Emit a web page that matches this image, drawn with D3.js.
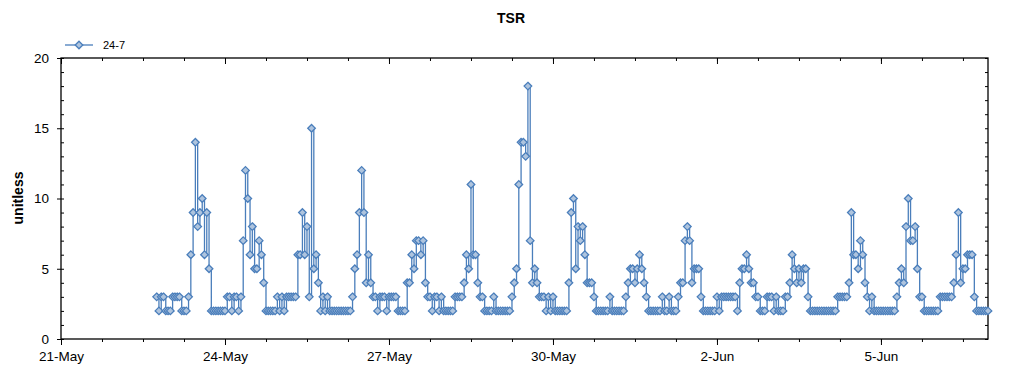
<!DOCTYPE html>
<html>
<head>
<meta charset="utf-8">
<script src="https://cdn.jsdelivr.net/npm/d3@7/dist/d3.min.js"></script>
<style>
  body { margin: 0; background: #fff; }
  svg { display: block; font-family: "Liberation Sans", Arial, sans-serif; }
</style>
</head>
<body>
<svg id="chart" width="1024" height="375"></svg>
<script>
const chartTitle = "TSR"
const seriesName = "24-7"
const yLabel = "unitless"
const yTicks = [0, 5, 10, 15, 20]
const xDomain = ["2024-05-21T00:00:00Z", "2024-06-06T23:00:00Z"]

// hourly readings, one array per day (first day starts at 18:00)
const dayStarts = ["2024-05-22T18:00:00Z", "2024-05-23T00:00:00Z", "2024-05-24T00:00:00Z",
	"2024-05-25T00:00:00Z", "2024-05-26T00:00:00Z", "2024-05-27T00:00:00Z", "2024-05-28T00:00:00Z",
	"2024-05-29T00:00:00Z", "2024-05-30T00:00:00Z", "2024-05-31T00:00:00Z", "2024-06-01T00:00:00Z",
	"2024-06-02T00:00:00Z", "2024-06-03T00:00:00Z", "2024-06-04T00:00:00Z", "2024-06-05T00:00:00Z",
	"2024-06-06T00:00:00Z"]
const may22 = [3, 2, 3, 3, 2, 2]
const may23 = [2, 3, 3, 3, 3, 2, 2, 2, 3, 6, 9, 14, 8, 9, 10, 6, 9, 5, 2, 2, 2, 2, 2, 2]
const may24 = [2, 3, 3, 2, 3, 3, 2, 3, 7, 12, 10, 6, 8, 5, 5, 7, 6, 4, 2, 2, 2, 2, 2, 3]
const may25 = [2, 3, 2, 3, 3, 3, 3, 3, 6, 6, 9, 6, 8, 3, 15, 5, 6, 4, 2, 3, 2, 3, 2, 2]
const may26 = [2, 2, 2, 2, 2, 2, 2, 2, 3, 5, 6, 9, 12, 9, 4, 6, 4, 3, 3, 2, 3, 3, 3, 2]
const may27 = [3, 3, 3, 3, 2, 2, 2, 2, 4, 4, 6, 5, 7, 7, 6, 7, 4, 3, 3, 2, 3, 3, 2, 3]
const may28 = [2, 2, 2, 2, 2, 3, 3, 3, 3, 4, 6, 5, 11, 6, 6, 4, 3, 3, 2, 2, 2, 2, 3, 2]
const may29 = [2, 2, 2, 2, 2, 2, 3, 4, 5, 11, 14, 14, 13, 18, 7, 4, 5, 4, 3, 3, 3, 2, 3, 2]
const may30 = [3, 2, 2, 2, 2, 2, 2, 4, 9, 10, 5, 8, 7, 8, 6, 4, 4, 4, 3, 2, 2, 2, 2, 2]
const may31 = [2, 3, 2, 2, 2, 2, 2, 2, 3, 4, 5, 5, 4, 5, 6, 5, 4, 3, 2, 2, 2, 2, 2, 2]
const jun01 = [3, 2, 2, 3, 2, 2, 2, 3, 4, 4, 7, 8, 7, 4, 5, 5, 5, 3, 2, 2, 2, 2, 2, 2]
const jun02 = [3, 2, 3, 3, 3, 3, 3, 3, 3, 2, 4, 5, 5, 6, 5, 4, 4, 3, 3, 2, 2, 2, 3, 3]
const jun03 = [3, 2, 3, 2, 2, 2, 3, 3, 4, 6, 5, 4, 5, 4, 5, 5, 3, 2, 2, 2, 2, 2, 2, 2]
const jun04 = [2, 2, 2, 2, 2, 3, 3, 3, 3, 3, 4, 9, 6, 6, 5, 7, 6, 4, 3, 2, 3, 2, 2, 2]
const jun05 = [2, 2, 2, 2, 2, 2, 2, 3, 4, 5, 4, 8, 10, 7, 7, 8, 5, 3, 3, 2, 2, 2, 2, 2]
const jun06 = [2, 2, 3, 3, 3, 3, 3, 3, 4, 6, 9, 4, 5, 5, 6, 6, 6, 3, 2, 2, 2, 2, 2, 2]
const days = [may22, may23, may24, may25, may26, may27, may28, may29, may30, may31,
	jun01, jun02, jun03, jun04, jun05, jun06]

const HOUR = 3600 * 1000
const data = []
days.forEach((vals, i) => {
	const t0 = new Date(dayStarts[i]).getTime()
	vals.forEach((v, h) => data.push({ t: new Date(t0 + h * HOUR), v: v }))
})

const svg = d3.select("#chart")
const lineColor = "#4a7ebb"
const markFill = "#aec4de"
const plot = { left: 61, right: 988, top: 58, bottom: 339 }

const x = d3.scaleUtc()
	.domain(xDomain.map(d => new Date(d)))
	.range([plot.left, plot.right])
const y = d3.scaleLinear()
	.domain([0, 20])
	.range([plot.bottom, plot.top])

// ticks every 18 hours, labelled every 3 days
const xStart = x.domain()[0].getTime()
const xMinor = d3.range(xStart, x.domain()[1].getTime() + 1, 18 * HOUR).map(t => new Date(t))
const xMajor = xMinor.filter((d, i) => i % 4 === 0)
const yMinor = d3.range(0, 21)
const fmt = d3.utcFormat("%-d-%b")

function clean(g) {
	g.select(".domain").remove()
	g.selectAll("line").attr("stroke", "#000")
	return g
}

// bottom axis (outward ticks)
svg.append("g").attr("transform", `translate(0,${plot.bottom})`)
	.call(d3.axisBottom(x).tickValues(xMinor).tickSize(3).tickFormat(""))
	.call(clean)
svg.append("g").attr("transform", `translate(0,${plot.bottom})`)
	.call(d3.axisBottom(x).tickValues(xMajor).tickSize(6).tickPadding(6).tickFormat(fmt))
	.call(clean)
	.selectAll("text").attr("fill", "#000").style("font-size", "13.5px")

// top axis (inward ticks)
svg.append("g").attr("transform", `translate(0,${plot.top})`)
	.call(d3.axisBottom(x).tickValues(xMinor).tickSize(3).tickFormat(""))
	.call(clean)
svg.append("g").attr("transform", `translate(0,${plot.top})`)
	.call(d3.axisBottom(x).tickValues(xMajor).tickSize(6).tickFormat(""))
	.call(clean)

// left axis: minor inward, major outward with labels
svg.append("g").attr("transform", `translate(${plot.left},0)`)
	.call(d3.axisRight(y).tickValues(yMinor).tickSize(3).tickFormat(""))
	.call(clean)
svg.append("g").attr("transform", `translate(${plot.left},0)`)
	.call(d3.axisLeft(y).tickValues(yTicks).tickSize(4).tickPadding(8).tickFormat(d3.format("d")))
	.call(clean)
	.selectAll("text").attr("fill", "#000").style("font-size", "13.5px")

// right axis (inward ticks)
svg.append("g").attr("transform", `translate(${plot.right},0)`)
	.call(d3.axisLeft(y).tickValues(yMinor).tickSize(3).tickFormat(""))
	.call(clean)

// frame
svg.append("rect")
	.attr("x", plot.left).attr("y", plot.top)
	.attr("width", plot.right - plot.left).attr("height", plot.bottom - plot.top)
	.attr("fill", "none").attr("stroke", "#000").attr("stroke-width", 1.3)

const line = d3.line()
	.x(d => x(d.t))
	.y(d => y(d.v))
	.curve(d3.curveStepAfter)

svg.append("path")
	.datum(data)
	.attr("d", line)
	.attr("fill", "none")
	.attr("stroke", lineColor)
	.attr("stroke-width", 1.3)

const diamond = "M0,-3.8L3.8,0L0,3.8L-3.8,0Z"
svg.append("g")
	.selectAll("path")
	.data(data)
	.join("path")
	.attr("d", diamond)
	.attr("transform", d => `translate(${x(d.t)},${y(d.v)})`)
	.attr("fill", markFill)
	.attr("stroke", lineColor)
	.attr("stroke-width", 1.3)

// title, axis label, legend
svg.append("text")
	.attr("x", 511).attr("y", 23)
	.attr("text-anchor", "middle")
	.style("font-weight", "bold").style("font-size", "14px")
	.text(chartTitle)

svg.append("text")
	.attr("transform", "translate(23,198) rotate(-90)")
	.attr("text-anchor", "middle")
	.style("font-weight", "bold").style("font-size", "14px")
	.text(yLabel)

const legend = svg.append("g").attr("transform", "translate(65,45)")
legend.append("line")
	.attr("x1", 0).attr("x2", 28)
	.attr("stroke", lineColor).attr("stroke-width", 1.3)
legend.append("path")
	.attr("d", diamond)
	.attr("transform", "translate(14,0)")
	.attr("fill", markFill).attr("stroke", lineColor).attr("stroke-width", 1.3)
legend.append("text")
	.attr("x", 38).attr("dy", "0.35em")
	.style("font-size", "11px")
	.text(seriesName)
</script>
</body>
</html>
